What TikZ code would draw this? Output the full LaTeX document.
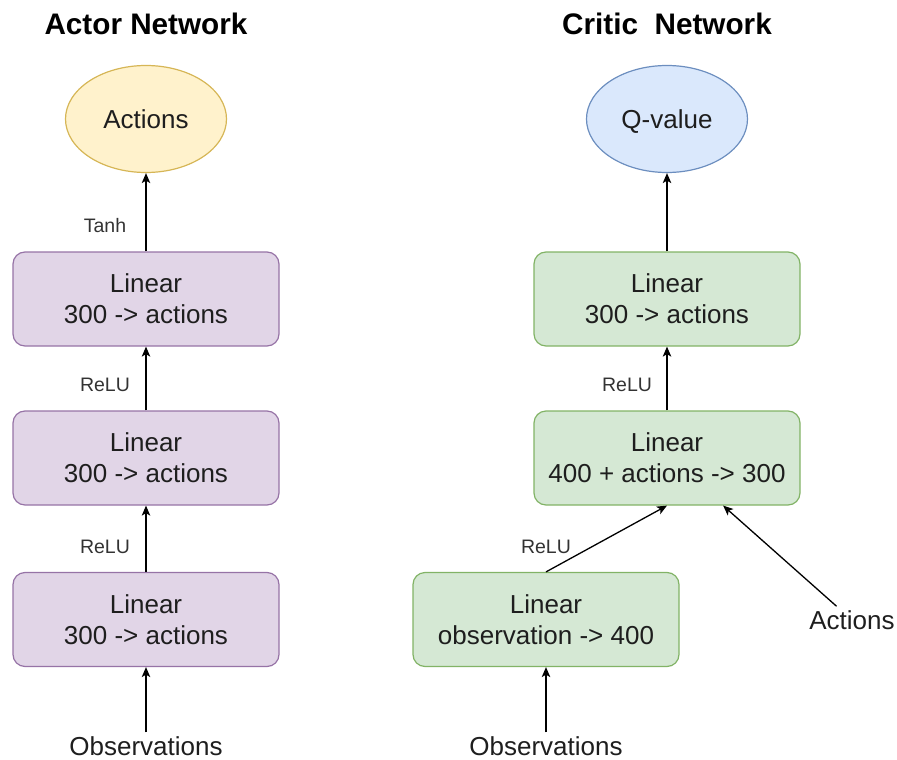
\documentclass[tikz,border=0pt]{standalone}
\usepackage{fontspec}
\setmainfont{Liberation Sans}
\usetikzlibrary{arrows.meta,shapes.geometric,calc}

\definecolor{purpleFill}{HTML}{E1D5E7}
\definecolor{purpleLine}{HTML}{9673A6}
\definecolor{greenFill}{HTML}{D5E8D4}
\definecolor{greenLine}{HTML}{82B366}
\definecolor{yellowFill}{HTML}{FFF2CC}
\definecolor{yellowLine}{HTML}{D6B656}
\definecolor{blueFill}{HTML}{DAE8FC}
\definecolor{blueLine}{HTML}{6C8EBF}
\definecolor{inkText}{HTML}{1E1E1E}
\definecolor{labelText}{HTML}{333333}

\tikzset{
  layer/.style={rounded corners=12pt, minimum width=266pt, minimum height=94pt,
    inner sep=0pt, align=center, font=\fontsize{26}{31}\selectfont,
    text=inkText, line width=1.2pt},
  actorbox/.style={layer, draw=purpleLine, fill=purpleFill},
  criticbox/.style={layer, draw=greenLine, fill=greenFill},
  outval/.style={ellipse, minimum width=161pt, minimum height=107pt, inner sep=0pt,
    text height=19pt, text depth=0pt,
    font=\fontsize{26}{31}\selectfont, text=inkText, line width=1.2pt},
  arr/.style={-{Stealth[length=10pt,width=8.5pt,inset=2.5pt]}, line width=1.3pt, draw=black},
  actlabel/.style={font=\fontsize{19.5}{23}\selectfont, text=labelText, inner sep=0pt},
  inputtxt/.style={font=\fontsize{26}{31}\selectfont, text=inkText, inner sep=4pt},
  nettitle/.style={font=\fontsize{29.7}{34}\selectfont\bfseries, text=black}
}

\begin{document}
\begin{tikzpicture}[x=1pt,y=-1pt]
\useasboundingbox (0,0) rectangle (897,760);

% ---------------- Actor network ----------------
\node[nettitle] (a_title) at (146,24) {Actor Network};
\node[outval, draw=yellowLine, fill=yellowFill] (a_out) at (146,119) {Actions};
\node[actorbox] (a1) at (146,299) {Linear\\300 -> actions};
\node[actorbox] (a2) at (146,458) {Linear\\300 -> actions};
\node[actorbox] (a3) at (146,619.5) {Linear\\300 -> actions};
\node[inputtxt] (a_obs) at (146,746) {Observations};

\node[actlabel] (a_tanh) at (105,226) {Tanh};
\node[actlabel] (a_relu1) at (105,385) {ReLU};
\node[actlabel] (a_relu2) at (105,547) {ReLU};

\draw[arr] (a_obs) -- (a3.south);
\draw[arr] (a3.north) -- (a2.south);
\draw[arr] (a2.north) -- (a1.south);
\draw[arr] (a1.north) -- (a_out.south);

% ---------------- Critic network ----------------
\node[nettitle] (c_title) at (667,24) {Critic\ \ Network};
\node[outval, draw=blueLine, fill=blueFill] (c_out) at (667,119) {Q-value};
\node[criticbox] (c_top) at (667,299) {Linear\\300 -> actions};
\node[criticbox] (c_mid) at (667,458) {Linear\\400 + actions -> 300};
\node[criticbox] (c_in) at (546,619.5) {Linear\\observation -> 400};
\node[inputtxt] (c_obs) at (546,746) {Observations};
\node[inputtxt] (c_act) at (852,620) {Actions};

\node[actlabel] (c_relu1) at (627,385) {ReLU};
\node[actlabel] (c_relu2) at (546,547) {ReLU};

\draw[arr] (c_obs) -- (c_in.south);
\draw[arr] (c_in.north) -- (c_mid.south);
\draw[arr] (c_act) -- ($(c_mid.south)!0.42!(c_mid.south east)$);
\draw[arr] (c_mid.north) -- (c_top.south);
\draw[arr] (c_top.north) -- (c_out.south);
\end{tikzpicture}
\end{document}
